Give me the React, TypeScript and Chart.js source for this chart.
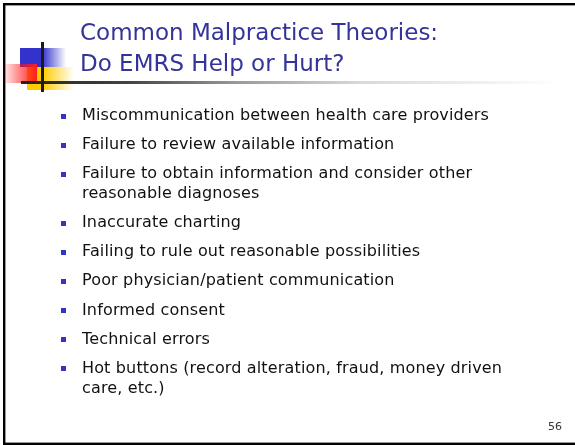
import React, { useEffect, useRef } from "react";
import { Chart, registerables } from "chart.js";

Chart.register(...registerables);

const titleLines: string[] = ["Common Malpractice Theories:", "Do EMRS Help or Hurt?"];
const bulletItems: string[][] = [
  ["Miscommunication between health care providers"],
  ["Failure to review available information"],
  ["Failure to obtain information and consider other", "reasonable diagnoses"],
  ["Inaccurate charting"],
  ["Failing to rule out reasonable possibilities"],
  ["Poor physician/patient communication"],
  ["Informed consent"],
  ["Technical errors"],
  ["Hot buttons (record alteration, fraud, money driven", "care, etc.)"],
];
const slideNumber = "56";

const W = 575;
const H = 445;
const FONT = "'DejaVu Sans', Verdana, sans-serif";

const decorPlugin = {
  id: "slideDecor",
  beforeDraw(chart: any) {
    const ctx: CanvasRenderingContext2D = chart.ctx;
    const cw = chart.width;
    ctx.save();
    ctx.fillStyle = "#ffffff";
    ctx.fillRect(0, 0, cw, chart.height);

    // slide frame (left, top, bottom)
    ctx.fillStyle = "#000000";
    ctx.fillRect(3, 3, cw - 3, 2.4);
    ctx.fillRect(3, 3, 2.4, 442);
    ctx.fillRect(3, 442.6, cw - 3, 2.4);

    // blue square
    let g = ctx.createLinearGradient(20, 0, 66, 0);
    g.addColorStop(0, "rgb(51,51,204)");
    g.addColorStop(0.48, "rgb(51,51,204)");
    g.addColorStop(1, "rgba(51,51,204,0)");
    ctx.fillStyle = g;
    ctx.fillRect(20, 48, 46, 19);

    // yellow square
    g = ctx.createLinearGradient(27, 0, 74, 0);
    g.addColorStop(0, "rgb(255,204,0)");
    g.addColorStop(0.33, "rgb(255,204,0)");
    g.addColorStop(1, "rgba(255,204,0,0)");
    ctx.fillStyle = g;
    ctx.fillRect(27, 67, 47, 23);

    // red bar
    g = ctx.createLinearGradient(3, 0, 37, 0);
    g.addColorStop(0, "rgba(255,0,0,0.04)");
    g.addColorStop(1, "rgba(255,30,30,1)");
    ctx.fillStyle = g;
    ctx.fillRect(3, 64, 34, 19);

    // horizontal rule
    g = ctx.createLinearGradient(21, 0, 562, 0);
    g.addColorStop(0, "#222222");
    g.addColorStop(0.2, "#444444");
    g.addColorStop(0.4, "#9a9a9a");
    g.addColorStop(0.63, "#d9d9d9");
    g.addColorStop(1, "#ffffff");
    ctx.fillStyle = g;
    ctx.fillRect(21, 81, 541, 3);

    // vertical rule
    ctx.fillStyle = "#1a1a1a";
    ctx.fillRect(41, 42, 3, 50);
    ctx.restore();
  },
};

export default function App() {
  const canvasRef = useRef<HTMLCanvasElement | null>(null);

  useEffect(() => {
    if (!canvasRef.current) return;
    const chart = new Chart(canvasRef.current, {
      type: "scatter",
      data: { datasets: [] },
      options: {
        animation: false,
        responsive: true,
        maintainAspectRatio: false,
        layout: { padding: 0 },
        plugins: { legend: { display: false }, tooltip: { enabled: false } },
        scales: { x: { display: false }, y: { display: false } },
      },
      plugins: [decorPlugin],
    });
    return () => chart.destroy();
  }, []);

  return (
    <div style={{ position: "fixed", left: 0, top: 0, width: W, height: H, overflow: "hidden", background: "#fff" }}>
      <div style={{ position: "absolute", left: 0, top: 0, width: W, height: H }}>
        <canvas ref={canvasRef} />
      </div>
      <div
        style={{
          position: "absolute",
          left: 80,
          top: 17,
          fontFamily: FONT,
          fontSize: 23,
          lineHeight: "31.3px",
          color: "#333399",
          whiteSpace: "nowrap",
        }}
      >
        {titleLines.map((t, i) => (
          <div key={i}>{t}</div>
        ))}
      </div>
      <div
        style={{
          position: "absolute",
          left: 61,
          top: 105,
          fontFamily: FONT,
          fontSize: 16,
          lineHeight: "20px",
          letterSpacing: "0.15px",
          color: "#111",
          whiteSpace: "nowrap",
        }}
      >
        {bulletItems.map((lines, i) => (
          <div key={i} style={{ position: "relative", paddingLeft: 21, marginTop: i === 0 ? 0 : 9.1 }}>
            <span
              style={{
                position: "absolute",
                left: 0,
                top: 8.7,
                width: 5,
                height: 5,
                background: "#3333cc",
              }}
            />
            {lines.map((l, j) => (
              <div key={j}>{l}</div>
            ))}
          </div>
        ))}
      </div>
      <div
        style={{
          position: "absolute",
          left: 548,
          top: 420,
          fontFamily: FONT,
          fontSize: 11,
          lineHeight: "13px",
          color: "#333",
        }}
      >
        {slideNumber}
      </div>
      <div style={{ position: "absolute", left: 569, top: 6, width: 6, height: 436, background: "#fff" }} />
    </div>
  );
}
